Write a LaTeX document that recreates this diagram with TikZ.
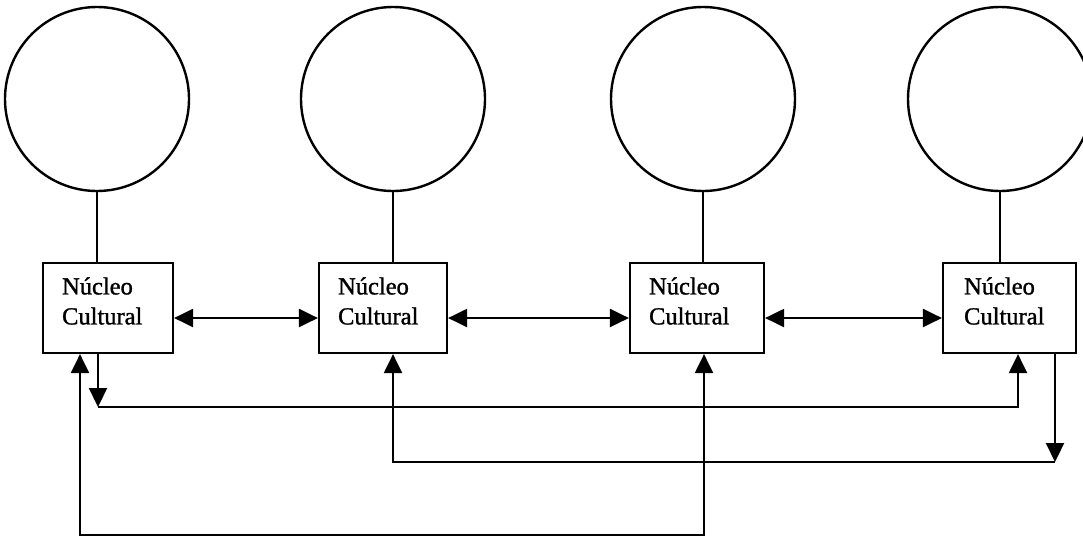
\documentclass[tikz,border=0pt]{standalone}
\usepackage{fontspec}
\setmainfont{Liberation Serif}
\newfontfamily\lblfont{Liberation Serif}[BoldFont=Liberation Serif, BoldFeatures={FakeBold=1.2}]
\usetikzlibrary{arrows.meta}
\begin{document}
\begin{tikzpicture}[x=1pt,y=-1pt,
  ring/.style={circle, draw, line width=2.4pt, minimum size=184pt, inner sep=0pt},
  box/.style={rectangle, draw, line width=2.2pt, minimum height=90pt, inner sep=0pt},
  lbl/.style={anchor=west, align=left, inner sep=0pt, font=\lblfont\bfseries\fontsize{24.5}{30}\selectfont},
  conn/.style={line width=2.2pt},
  tip/.style={-{Triangle[length=19pt,width=18pt]}},
  dtip/.style={{Triangle[length=19pt,width=18pt]}-{Triangle[length=19pt,width=18pt]}}]
\useasboundingbox (0,0) rectangle (1083,539);
\clip (0,0) rectangle (1083,539);
% circles
\node[ring] (c1) at (97,99) {};
\node[ring] (c2) at (393,99) {};
\node[ring] (c3) at (703,99) {};
\node[ring] (c4) at (1000,99) {};
% boxes
\node[box, minimum width=130pt] (b1) at (108,308) {};
\node[box, minimum width=128pt] (b2) at (383,308) {};
\node[box, minimum width=134pt] (b3) at (697,308) {};
\node[box, minimum width=133pt] (b4) at (1009.5,308) {};
% labels
\node[lbl] (t1) at ([xshift=20pt,yshift=7pt]b1.west) {Núcleo\\Cultural};
\node[lbl] (t2) at ([xshift=20pt,yshift=7pt]b2.west) {Núcleo\\Cultural};
\node[lbl] (t3) at ([xshift=20pt,yshift=7pt]b3.west) {Núcleo\\Cultural};
\node[lbl] (t4) at ([xshift=22pt,yshift=7pt]b4.west) {Núcleo\\Cultural};
% stems
\draw[conn] (c1.south) -- (c1.south |- b1.north);
\draw[conn] (c2.south) -- (c2.south |- b2.north);
\draw[conn] (c3.south) -- (c3.south |- b3.north);
\draw[conn] (c4.south) -- (c4.south |- b4.north);
% horizontal double arrows
\draw[conn,dtip] ([yshift=-10pt]b1.east) -- ([yshift=-10pt]b2.west);
\draw[conn,dtip] ([yshift=-10pt]b2.east) -- ([yshift=-10pt]b3.west);
\draw[conn,dtip] ([yshift=-10pt]b3.east) -- ([yshift=-10pt]b4.west);
% route A: b1 -> b4
\coordinate (a1) at (98,407);
\coordinate (a2) at (1018,407);
\draw[conn,tip] (b1.south -| a1) -- (a1);
\draw[conn,tip] (a1) -- (a2) -- (b4.south -| a2);
% route B: b4 -> b2
\coordinate (r1) at (1055,462);
\coordinate (r2) at (393,462);
\draw[conn,tip] (b4.south -| r1) -- (r1);
\draw[conn,tip] (r1) -- (r2) -- (b2.south -| r2);
% route C: b1 <-> b3
\coordinate (s1) at (80,535);
\coordinate (s2) at (704,535);
\draw[conn,dtip] (b1.south -| s1) -- (s1) -- (s2) -- (b3.south -| s2);
\end{tikzpicture}
\end{document}
